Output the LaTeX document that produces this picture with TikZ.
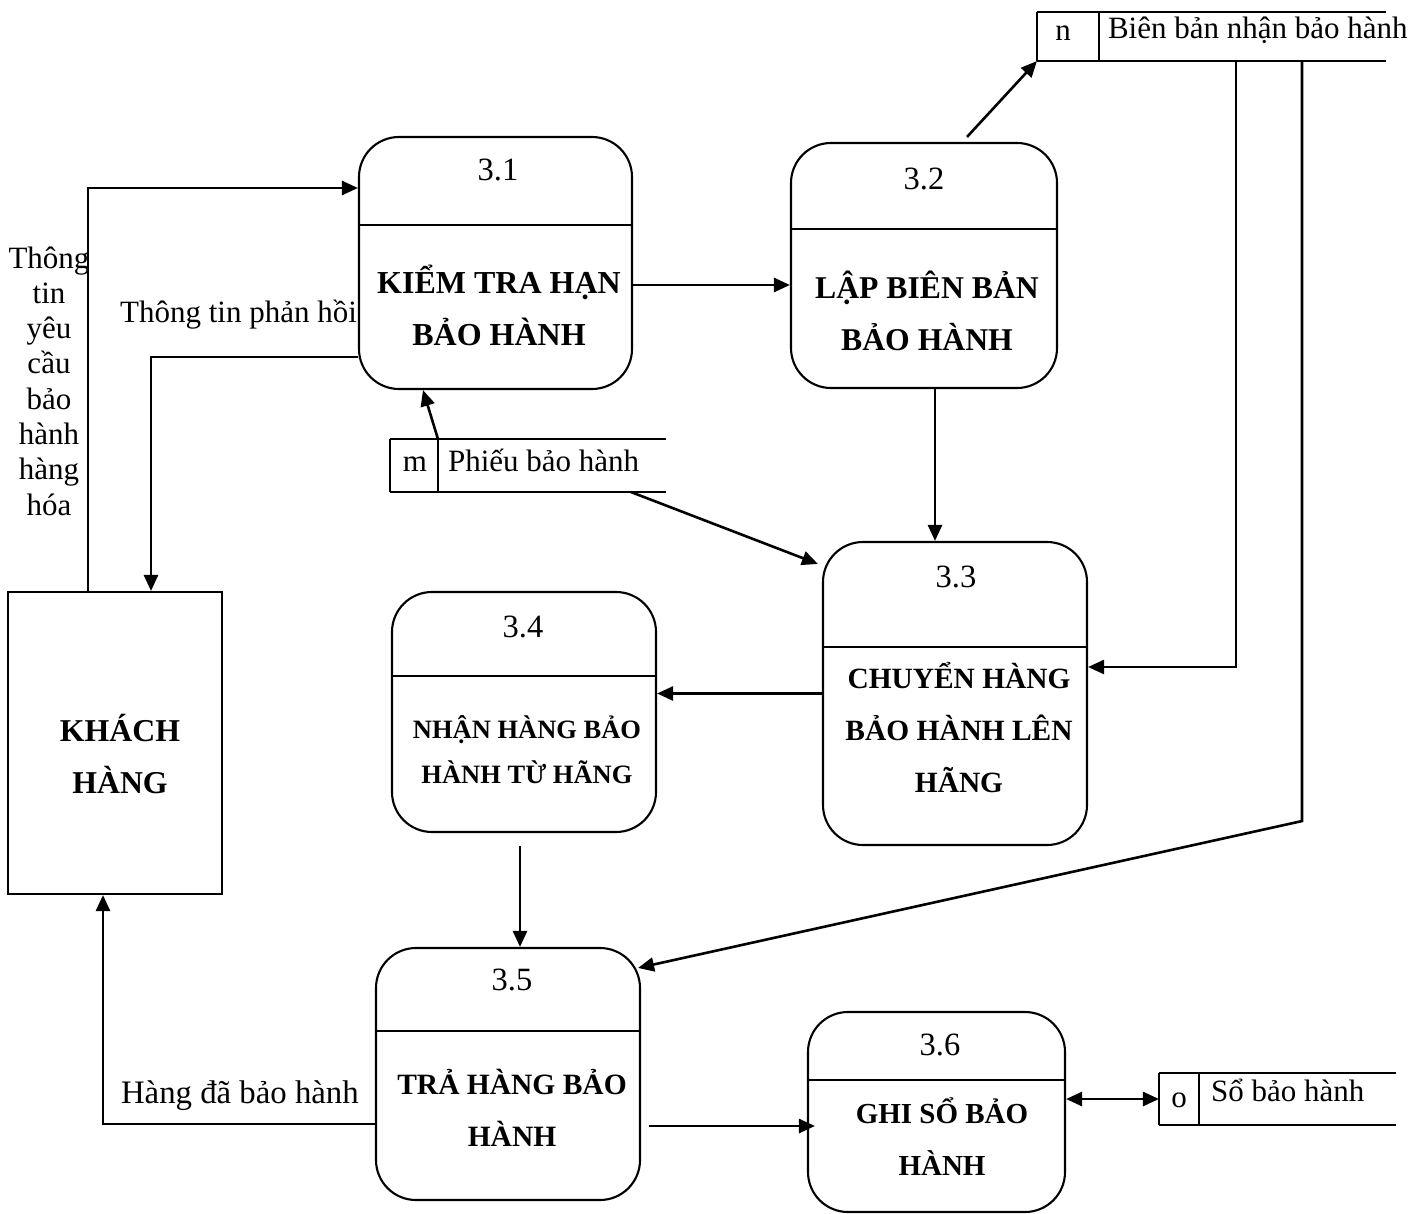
\documentclass[tikz,border=0pt]{standalone}
\usepackage{fontspec}
\setmainfont{Liberation Serif}
\usetikzlibrary{arrows.meta,calc}
\begin{document}
\begin{tikzpicture}[x=1pt,y=-1pt,line width=2.1pt,
  proc/.style={draw, rounded corners=40pt, inner sep=0pt},
  ent/.style={draw, inner sep=0pt},
  store/.style={inner sep=0pt},
  pid/.style={font=\fontsize{32.5}{38}\selectfont, inner sep=0pt},
  pname/.style={font=\bfseries\fontsize{#1}{52}\selectfont, align=center, inner sep=0pt},
  pname/.default=31,
  lbl/.style={font=\fontsize{31}{35.3}\selectfont, inner sep=0pt},
  arr/.style={line width=2.6pt, -{Triangle[length=16pt,width=14pt]}},
  darr/.style={line width=2.6pt, {Triangle[length=16pt,width=14pt]}-{Triangle[length=16pt,width=14pt]}}]
\useasboundingbox (0,0) rectangle (1420,1214);

% external entity
\node[ent, minimum width=214pt, minimum height=302pt] (kh) at (115,743) {};
\node[pname=31.8] (khT) at (120,754) {KHÁCH\\HÀNG};

% processes
\node[proc, minimum width=273pt, minimum height=252pt] (p31) at (495.5,263) {};
\draw ([yshift=-89pt]p31.north west) -- ([yshift=-89pt]p31.north east);
\node[pid] (n31) at (498,170) {3.1};
\node[pname=32] (t31) at (499,305) {KIỂM TRA HẠN\\BẢO HÀNH};

\node[proc, minimum width=266pt, minimum height=245pt] (p32) at (924,265.5) {};
\draw ([yshift=-87pt]p32.north west) -- ([yshift=-87pt]p32.north east);
\node[pid] (n32) at (924,179) {3.2};
\node[pname=31.7] (t32) at (927,311) {LẬP BIÊN BẢN\\BẢO HÀNH};

\node[proc, minimum width=264pt, minimum height=303pt] (p33) at (955,693.5) {};
\draw ([yshift=-106pt]p33.north west) -- ([yshift=-106pt]p33.north east);
\node[pid] (n33) at (956,577) {3.3};
\node[pname=29.4] (t33) at (959,728) {CHUYỂN HÀNG\\BẢO HÀNH LÊN\\HÃNG};

\node[proc, minimum width=264pt, minimum height=240pt] (p34) at (524,712) {};
\draw ([yshift=-85pt]p34.north west) -- ([yshift=-85pt]p34.north east);
\node[pid] (n34) at (523,627) {3.4};
\node[pname, font=\bfseries\fontsize{26.5}{45}\selectfont] (t34) at (527,750) {NHẬN HÀNG BẢO\\HÀNH TỪ HÃNG};

\node[proc, minimum width=264pt, minimum height=252pt] (p35) at (508,1074) {};
\draw ([yshift=-84pt]p35.north west) -- ([yshift=-84pt]p35.north east);
\node[pid] (n35) at (512,980) {3.5};
\node[pname=29.5] (t35) at (512,1108) {TRẢ HÀNG BẢO\\HÀNH};

\node[proc, minimum width=257pt, minimum height=200pt] (p36) at (936.5,1112) {};
\draw ([yshift=-69pt]p36.north west) -- ([yshift=-69pt]p36.north east);
\node[pid] (n36) at (940,1045) {3.6};
\node[pname=29] (t36) at (942,1137) {GHI SỔ BẢO\\HÀNH};

% data stores
\node[store, minimum width=347pt, minimum height=47pt] (sn) at (1211.5,36.5) {};
\draw (sn.north west) -- (sn.north east) (sn.south west) -- (sn.south east)
      (sn.north west) -- (sn.south west)
      ([xshift=62pt]sn.north west) -- ([xshift=62pt]sn.south west);
\node[lbl, anchor=base] (snId) at (1063,41) {n};
\node[lbl, anchor=base west] (snT) at (1107,39) {Biên bản nhận bảo hành};

\node[store, minimum width=274pt, minimum height=51pt] (sm) at (528,465.5) {};
\draw (sm.north west) -- (sm.north east) (sm.south west) -- (sm.south east)
      (sm.north west) -- (sm.south west)
      ([xshift=48pt]sm.north west) -- ([xshift=48pt]sm.south west);
\node[lbl, anchor=base] (smId) at (415,471) {m};
\node[lbl, anchor=base west] (smT) at (447,471) {Phiếu bảo hành};

\node[store, minimum width=235pt, minimum height=50pt] (so) at (1277.5,1099) {};
\draw (so.north west) -- (so.north east) (so.south west) -- (so.south east)
      (so.north west) -- (so.south west)
      ([xshift=40pt]so.north west) -- ([xshift=40pt]so.south west);
\node[lbl, anchor=base] (soId) at (1179,1107) {o};
\node[lbl, anchor=base west] (soT) at (1210,1101) {Sổ bảo hành};

% flow labels
\node[lbl, align=center] (lReq) at (49,381) {Thông\\tin\\yêu\\cầu\\bảo\\hành\\hàng\\hóa};
\node[lbl, anchor=base east] (lFb) at (358,322) {Thông tin phản hồi};
\node[lbl, anchor=base west, font=\fontsize{32.8}{38}\selectfont] (lRet) at (120,1103) {Hàng đã bảo hành};

% data flows
\draw[arr] ([xshift=-27pt]kh.north) |- ([yshift=75pt]p31.west);
\draw[arr] ([yshift=-94pt]p31.west) -| ([xshift=36pt]kh.north);
\draw[arr] ([yshift=-22pt]p31.east) -- ([yshift=-22pt]p31.east -| p32.west);
\draw[arr] ([xshift=43pt,yshift=5pt]p32.north) -- (sn.south west);
\draw[arr] ([xshift=199pt]sn.south west) |- ([yshift=26.5pt]p33.east);
\draw[arr] ([xshift=265pt]sn.south west) -- ++(0,760) -- ([xshift=-3pt,yshift=-21pt]p35.north east);
\draw[arr] ([xshift=11pt]p32.south) -- ([xshift=11pt]p32.south |- p33.north);
\draw[arr] ([xshift=48pt]sm.north west) -- ([xshift=-72.5pt]p31.south);
\draw[arr] ([xshift=-35pt]sm.south east) -- ([xshift=-4pt,yshift=-23pt]p33.north west);
\draw[arr] (p33.west) -- (p33.west -| p34.east);
\draw[arr] ([xshift=-4pt,yshift=-13pt]p34.south) -- ([xshift=12pt]p35.north);
\draw[arr] ([yshift=-50pt]p35.west) -| ([xshift=-12pt]kh.south);
\draw[arr] ([xshift=8pt,yshift=-52pt]p35.east) -- ([xshift=8pt,yshift=-52pt]p35.east -| p36.west);
\draw[darr] (so.west -| p36.east) -- (so.west);
\end{tikzpicture}
\end{document}
